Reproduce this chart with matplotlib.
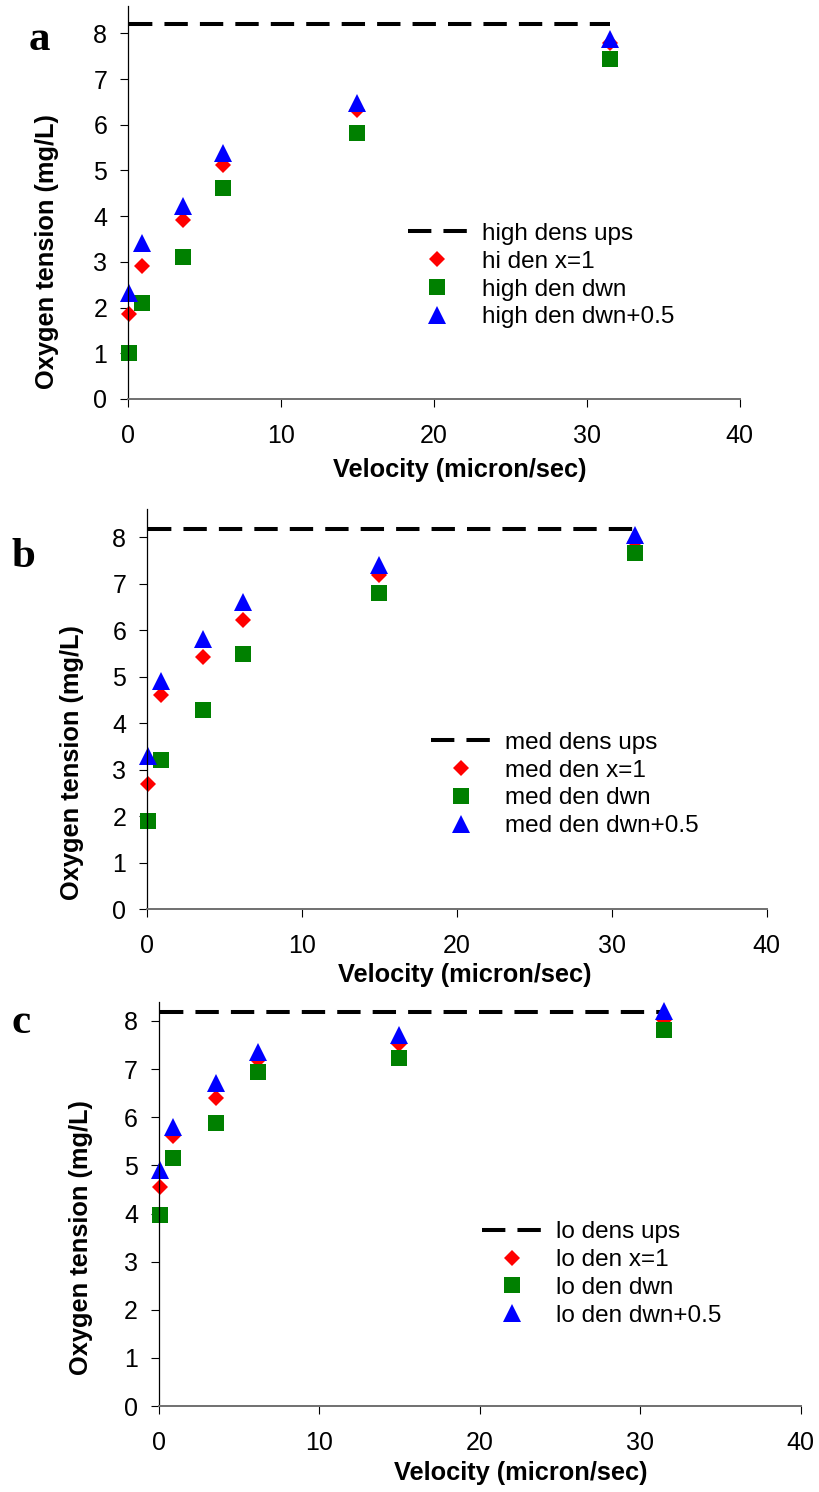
import matplotlib
matplotlib.use("Agg")
import matplotlib.pyplot as plt

plt.rcParams['font.family'] = ['Liberation Sans', 'DejaVu Sans']

# velocities (micron/sec), shared by all three panels
velocity = [0.1, 0.9, 3.6, 6.2, 15.0, 31.5]

# panel a - high density
hi_ups = [8.2, 8.2, 8.2, 8.2, 8.2, 8.2]
hi_x1 = [1.87, 2.90, 3.92, 5.13, 6.32, 7.78]
hi_dwn = [1.00, 2.10, 3.10, 4.61, 5.83, 7.45]
hi_dwn05 = [2.31, 3.42, 4.22, 5.39, 6.47, 7.88]

# panel b - medium density
med_ups = [8.18, 8.18, 8.18, 8.18, 8.18, 8.18]
med_x1 = [2.70, 4.60, 5.43, 6.22, 7.19, 7.90]
med_dwn = [1.89, 3.20, 4.28, 5.49, 6.81, 7.67]
med_dwn05 = [3.30, 4.90, 5.81, 6.61, 7.40, 8.04]

# panel c - low density
lo_ups = [8.18, 8.18, 8.18, 8.18, 8.18, 8.18]
lo_x1 = [4.55, 5.62, 6.41, 7.18, 7.52, 8.03]
lo_dwn = [3.97, 5.15, 5.88, 6.93, 7.24, 7.82]
lo_dwn05 = [4.90, 5.80, 6.71, 7.36, 7.70, 8.20]

x_ticks = [0, 10, 20, 30, 40]
y_ticks = [0, 1, 2, 3, 4, 5, 6, 7, 8]

panels = [
    dict(letter="a", ups=hi_ups, x1=hi_x1, dwn=hi_dwn, dwn05=hi_dwn05,
         labels=["high dens ups", "hi den x=1", "high den dwn", "high den dwn+0.5"]),
    dict(letter="b", ups=med_ups, x1=med_x1, dwn=med_dwn, dwn05=med_dwn05,
         labels=["med dens ups", "med den x=1", "med den dwn", "med den dwn+0.5"]),
    dict(letter="c", ups=lo_ups, x1=lo_x1, dwn=lo_dwn, dwn05=lo_dwn05,
         labels=["lo dens ups", "lo den x=1", "lo den dwn", "lo den dwn+0.5"]),
]

# layout (figure fractions) and label placement per panel
rects = [
    [0.156, 0.7326, 0.746, 0.2634],
    [0.179, 0.3906, 0.756, 0.2680],
    [0.1935, 0.0576, 0.783, 0.2710],
]
ymax = [8.6, 8.6, 8.4]
xlabel_pos = [(0.542, -0.181), (0.513, -0.164), (0.564, -0.166)]
ylabel_pos = [(-0.132, 0.376), (-0.120, 0.366), (-0.121, 0.417)]
legend_pos = [(0.4575, 0.448), (0.4585, 0.444), (0.5036, 0.457)]
letter_pos = [(39, 50), (23, 567), (21, 1033)]

W, H = 820, 1492
fig = plt.figure(figsize=(W / 100, H / 100), dpi=100)

for i, p in enumerate(panels):
    ax = fig.add_axes(rects[i])
    ax.plot(velocity, p["ups"], color="black", lw=2.9, ls=(0, (5.8, 3.0)),
            dash_capstyle="butt", label=p["labels"][0], clip_on=False)
    ax.plot(velocity, p["x1"], ls="none", marker="D", ms=8.6, mew=0,
            color="#FF0000", label=p["labels"][1], clip_on=False)
    ax.plot(velocity, p["dwn"], ls="none", marker="s", ms=11.5, mew=0,
            color="#008000", label=p["labels"][2], clip_on=False)
    ax.plot(velocity, p["dwn05"], ls="none", marker="^", ms=12.6, mew=0,
            color="#0000FF", label=p["labels"][3], clip_on=False)

    ax.set_xlim(0, 40)
    ax.set_ylim(0, ymax[i])
    ax.set_xticks(x_ticks)
    ax.set_yticks(y_ticks)
    for s in ["top", "right"]:
        ax.spines[s].set_visible(False)
    ax.spines["left"].set_color("black")
    ax.spines["left"].set_linewidth(0.9)
    ax.spines["bottom"].set_color("#707070")
    ax.spines["bottom"].set_linewidth(1.4)
    ax.tick_params(axis="both", direction="out", length=5.8, width=0.8,
                   colors="black", labelsize=18)
    ax.tick_params(axis="x", pad=12)
    ax.tick_params(axis="y", pad=9)

    ax.set_xlabel("Velocity (micron/sec)", fontsize=18.3, fontweight="bold")
    ax.xaxis.set_label_coords(*xlabel_pos[i])
    ax.xaxis.label.set_va("center")
    ax.set_ylabel("Oxygen tension (mg/L)", fontsize=18.3, fontweight="bold")
    ax.yaxis.set_label_coords(*ylabel_pos[i])
    ax.yaxis.label.set_va("center")

    ax.legend(loc="upper left", bbox_to_anchor=legend_pos[i], frameon=False,
              fontsize=17.5, handlelength=2.43, handletextpad=0.62,
              labelspacing=0.24, borderpad=0, borderaxespad=0)

    lx, ly = letter_pos[i]
    fig.text(lx / W, 1 - ly / H, p["letter"], ha="center", va="baseline",
             fontsize=31, fontweight="bold", family="Liberation Serif")

fig.savefig("out.png", dpi=100)
